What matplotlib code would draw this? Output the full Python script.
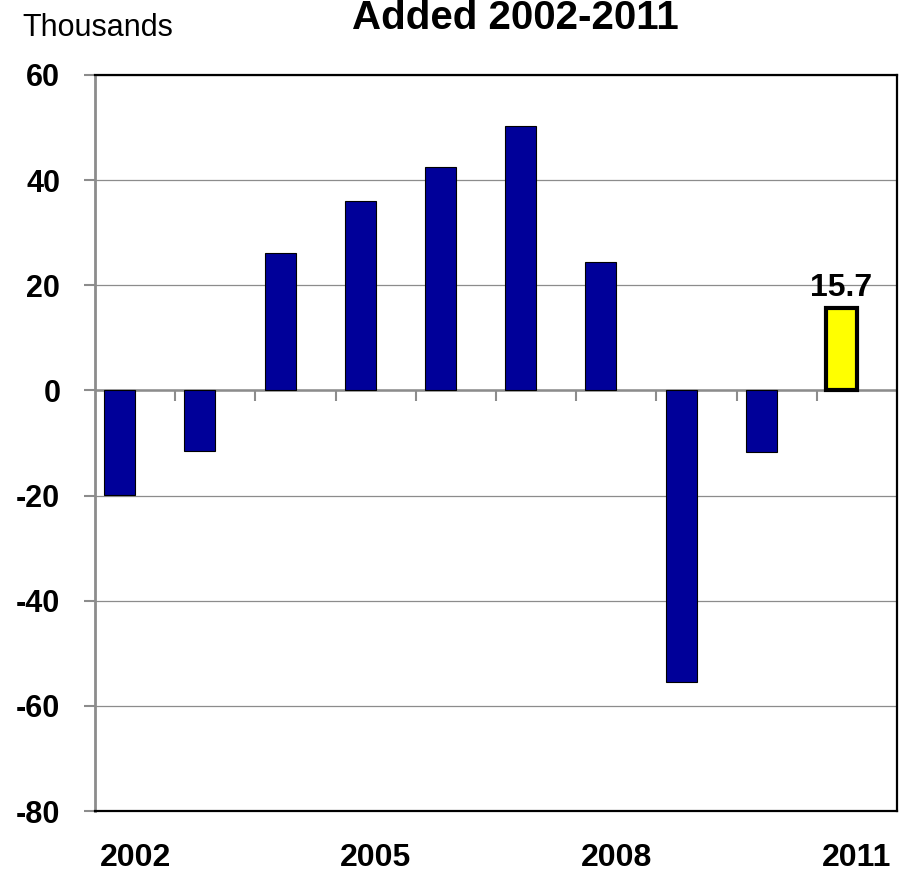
import numpy as np
import matplotlib; matplotlib.use('Agg')
import matplotlib.pyplot as plt

years = ['2002', '2003', '2004', '2005', '2006', '2007', '2008', '2009', '2010', '2011']
jobs = [-19.8, -11.5, 26.2, 36.0, 42.5, 50.3, 24.4, -55.5, -11.8, 15.7]
shown_years = ['2002', '2005', '2008', '2011']
y_ticks = [-80, -60, -40, -20, 0, 20, 40, 60]

plt.rcParams['font.family'] = ['Liberation Sans', 'DejaVu Sans']

fig = plt.figure(figsize=(8.99, 8.72), dpi=100)
ax = fig.add_axes([95/899, 61/872, 802/899, 736/872])

x = np.arange(len(years))
off, w = 0.193, 0.387
cols = ['#000099'] * (len(years) - 1) + ['#FFFF00']
lws = [0.8] * (len(years) - 1) + [3.0]
ax.bar(x - off, jobs, width=w, color=cols, edgecolor='black', linewidth=lws, zorder=3)
ax.text(x[-1] - off, jobs[-1] + 1.0, f'{jobs[-1]}', ha='center', va='bottom',
        fontsize=23, fontweight='bold')

ax.set_xlim(-0.5, len(years) - 0.5)
ax.set_ylim(y_ticks[0], y_ticks[-1])
ax.set_yticks(y_ticks)
ax.set_yticklabels([str(v) for v in y_ticks], fontsize=22, fontweight='bold')
ax.yaxis.grid(True, color='#8c8c8c', lw=0.9, zorder=0)
ax.axhline(0, color='#8c8c8c', lw=1.8, zorder=2)
ax.tick_params(axis='y', direction='out', length=8, width=1.5, color='#8c8c8c', pad=17)

pos = [years.index(s) for s in shown_years]
ax.set_xticks(pos)
ax.set_xticklabels(shown_years, fontsize=23, fontweight='bold')
ax.tick_params(axis='x', length=0, pad=23)

# category boundary ticks on the zero line
zpos = (0 - y_ticks[0]) / (y_ticks[-1] - y_ticks[0])
sec = ax.secondary_xaxis(zpos)
sec.set_xticks(x[:-1] + 0.5)
sec.tick_params(direction='in', length=8, width=1.5, color='#8c8c8c',
                labeltop=False, labelbottom=False)
for s in sec.spines.values():
    s.set_visible(False)

for s in ['top', 'right', 'bottom']:
    ax.spines[s].set_color('black'); ax.spines[s].set_linewidth(1.6)
ax.spines['left'].set_color('#8c8c8c'); ax.spines['left'].set_linewidth(2.0)

fig.text(22/899, 1 - 36/872, 'Thousands', fontsize=22, va='baseline')
fig.text(515/899, 1 - 29/872, 'Added 2002-2011', fontsize=29, fontweight='bold',
         ha='center', va='baseline')

fig.savefig('out.png', dpi=100)
